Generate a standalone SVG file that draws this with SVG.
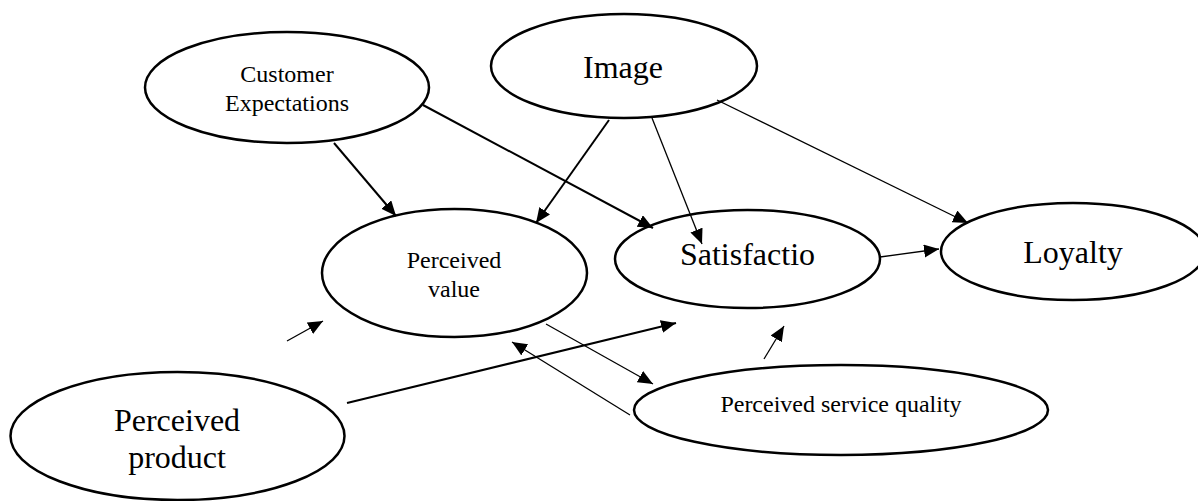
<svg xmlns="http://www.w3.org/2000/svg" width="1198" height="501" viewBox="0 0 1198 501">
<style>
.node ellipse{fill:#fff;stroke:#000;stroke-width:2.5}
.node text{font-family:"Liberation Serif","Times New Roman",serif;fill:#000;text-anchor:middle}
.s{font-size:24px}
.l{font-size:32px}
.edges line{stroke:#000;fill:none}
.thick{stroke-width:2}
.thin{stroke-width:1.3}
</style>
<defs>
<marker id="arr" markerUnits="userSpaceOnUse" markerWidth="16" markerHeight="14" refX="15" refY="6.5" orient="auto" viewBox="0 0 16 14">
<path d="M0,0 L15,6.5 L0,13 z" fill="#000"/>
</marker>
</defs>
<rect width="1198" height="501" fill="#fff"/>
<g id="n-customer" class="node">
<ellipse cx="287" cy="87.5" rx="142" ry="55.5"/>
<text class="s" x="287" y="82">Customer</text>
<text class="s" x="287" y="111">Expectations</text>
</g>
<g id="n-image" class="node">
<ellipse cx="624" cy="66" rx="133" ry="52"/>
<text class="l" x="623" y="78">Image</text>
</g>
<g id="n-value" class="node">
<ellipse cx="454.5" cy="273" rx="132.5" ry="64"/>
<text class="s" x="454" y="268">Perceived</text>
<text class="s" x="454" y="297">value</text>
</g>
<g id="n-satisfaction" class="node">
<ellipse cx="747.5" cy="259" rx="132.5" ry="49"/>
<text class="l" x="747.5" y="265">Satisfactio</text>
</g>
<g id="n-loyalty" class="node">
<ellipse cx="1073" cy="251.5" rx="132" ry="48.5"/>
<text class="l" x="1073" y="263">Loyalty</text>
</g>
<g id="n-product" class="node">
<ellipse cx="177.5" cy="436" rx="167" ry="64"/>
<text class="l" x="177" y="431">Perceived</text>
<text class="l" x="177" y="468">product</text>
</g>
<g id="n-service" class="node">
<ellipse cx="841" cy="410" rx="207" ry="45"/>
<text class="s" x="841" y="412">Perceived service quality</text>
</g>
<g id="edges" class="edges">
<line class="thick" x1="334" y1="143" x2="396" y2="216" marker-end="url(#arr)"/>
<line class="thick" x1="423" y1="105" x2="653" y2="228" marker-end="url(#arr)"/>
<line class="thick" x1="609" y1="120" x2="536" y2="223" marker-end="url(#arr)"/>
<line class="thin" x1="652" y1="118" x2="702" y2="244" marker-end="url(#arr)"/>
<line class="thin" x1="717" y1="100" x2="968" y2="223" marker-end="url(#arr)"/>
<line class="thin" x1="880" y1="257" x2="939" y2="249" marker-end="url(#arr)"/>
<line class="thin" x1="546" y1="324" x2="653" y2="384" marker-end="url(#arr)"/>
<line class="thin" x1="630" y1="415" x2="512" y2="342" marker-end="url(#arr)"/>
<line class="thick" x1="347" y1="403" x2="676" y2="323" marker-end="url(#arr)"/>
<line class="thin" x1="764" y1="359" x2="784" y2="326" marker-end="url(#arr)"/>
<line class="thin" x1="287" y1="341" x2="323" y2="321" marker-end="url(#arr)"/>
</g>
</svg>
